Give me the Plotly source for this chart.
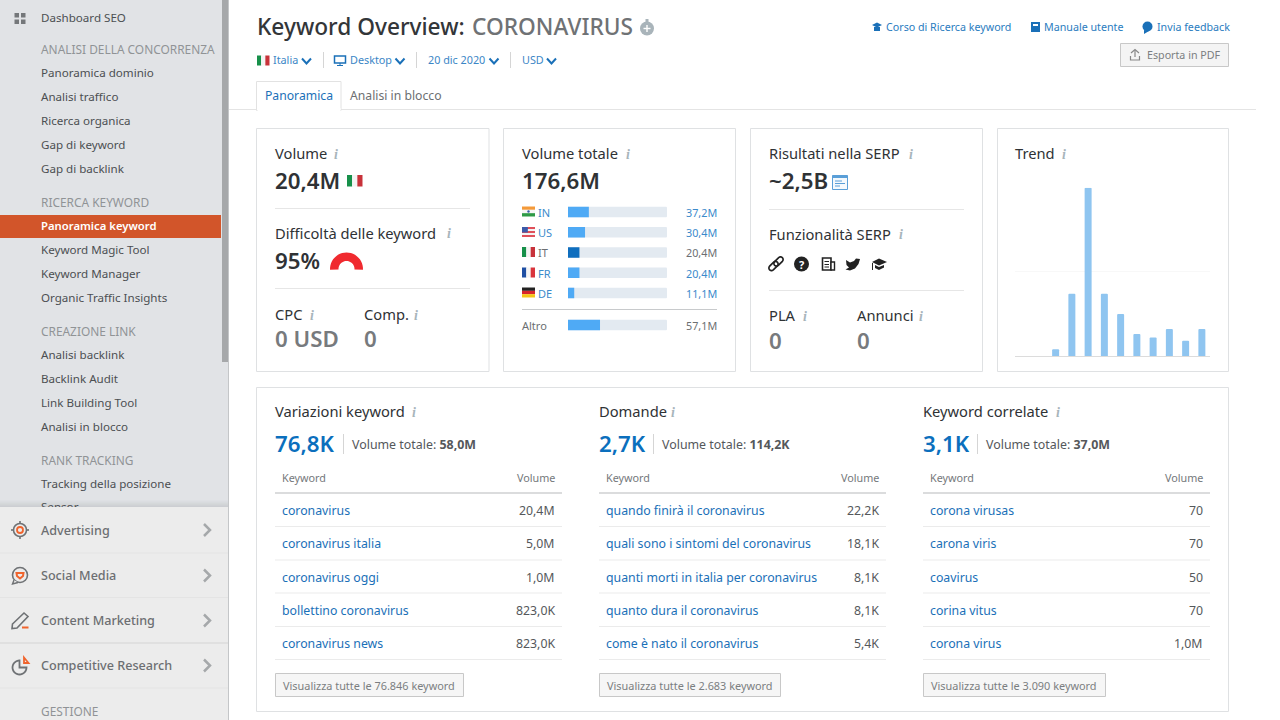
import math
import plotly.graph_objects as go

W, H = 1280, 720
FONT = "Noto Sans"
DARK = "#2f3235"
BLUE = "#1a70b8"
GREY = "#777a7d"
TITLE = 14.7
BIG = 22.3

# sidebar
nav_top = [("Dashboard SEO", 18, "item"),
           ("ANALISI DELLA CONCORRENZA", 49, "head"),
           ("Panoramica dominio", 73, "item"), ("Analisi traffico", 97, "item"),
           ("Ricerca organica", 121, "item"), ("Gap di keyword", 145, "item"),
           ("Gap di backlink", 169, "item"),
           ("RICERCA KEYWORD", 202, "head"),
           ("Panoramica keyword", 226, "active"),
           ("Keyword Magic Tool", 250, "item"), ("Keyword Manager", 274, "item"),
           ("Organic Traffic Insights", 298, "item"),
           ("CREAZIONE LINK", 331, "head"),
           ("Analisi backlink", 355, "item"), ("Backlink Audit", 379, "item"),
           ("Link Building Tool", 403, "item"), ("Analisi in blocco", 427, "item"),
           ("RANK TRACKING", 460, "head"),
           ("Tracking della posizione", 484, "item")]
nav_clipped = "Sensor"
nav_bottom = ["Advertising", "Social Media", "Content Marketing", "Competitive Research"]

# volume totale card
countries = ["IN", "US", "IT", "FR", "DE"]
country_values = [37.2, 30.4, 20.4, 20.4, 11.1]
country_labels = ["37,2M", "30,4M", "20,4M", "20,4M", "11,1M"]
total_volume = 176.6
other_value = 57.1

# trend card
trend_months = ["dic", "gen", "feb", "mar", "apr", "mag", "giu", "lug", "ago", "set", "ott", "nov"]
trend_values = [0, 0, 4, 37, 100, 37, 25, 13, 11, 16, 9, 16]

# keyword tables
kw_titles = ["Variazioni keyword", "Domande", "Keyword correlate"]
kw_counts = ["76,8K", "2,7K", "3,1K"]
kw_totals = ["58,0M", "114,2K", "37,0M"]
kw_buttons = ["Visualizza tutte le 76.846 keyword", "Visualizza tutte le 2.683 keyword",
              "Visualizza tutte le 3.090 keyword"]
kw_names = [["coronavirus", "coronavirus italia", "coronavirus oggi", "bollettino coronavirus", "coronavirus news"],
            ["quando finirà il coronavirus", "quali sono i sintomi del coronavirus",
             "quanti morti in italia per coronavirus", "quanto dura il coronavirus", "come è nato il coronavirus"],
            ["corona virusas", "carona viris", "coavirus", "corina vitus", "corona virus"]]
kw_volumes = [["20,4M", "5,0M", "1,0M", "823,0K", "823,0K"],
              ["22,2K", "18,1K", "8,1K", "8,1K", "5,4K"],
              ["70", "70", "50", "70", "1,0M"]]

shapes = []
annotations = []


def px(x):
    return x / W


def py(y):
    return 1 - y / H


def rect(x0, y0, x1, y1, fill="rgba(0,0,0,0)", line=None, width=1):
    shapes.append(dict(type="rect", xref="paper", yref="paper", x0=px(x0), x1=px(x1), y0=py(y0), y1=py(y1),
                       fillcolor=fill, line=dict(color=line, width=width if line else 0), layer="below"))


def hline(x0, x1, y, color="#e6e6e6", width=1):
    rect(x0, y - width / 2, x1, y + width / 2, fill=color)


def vline(x, y0, y1, color="#d5d5d5"):
    rect(x - 0.5, y0, x + 0.5, y1, fill=color)


def circle(cx, cy, r, fill="rgba(0,0,0,0)", line=None, width=1):
    shapes.append(dict(type="circle", xref="paper", yref="paper", x0=px(cx - r), x1=px(cx + r),
                       y0=py(cy - r), y1=py(cy + r), fillcolor=fill,
                       line=dict(color=line, width=width if line else 0), layer="below"))


def poly(points, fill=None, line=None, width=1, close=False):
    d = "M " + " L ".join(f"{px(a):.5f},{py(b):.5f}" for a, b in points)
    if close:
        d += " Z"
    shapes.append(dict(type="path", xref="paper", yref="paper", path=d,
                       fillcolor=fill or "rgba(0,0,0,0)",
                       line=dict(color=line, width=width if line else 0), layer="below"))


def arc(cx, cy, r, a0, a1, n=24):
    return [(cx + r * math.cos(math.radians(a0 + (a1 - a0) * i / n)),
             cy - r * math.sin(math.radians(a0 + (a1 - a0) * i / n))) for i in range(n + 1)]


def text(x, y, s, size=12.3, color=DARK, anchor="left", weight=400, family=FONT):
    if size >= 14:
        y -= 0.7
    annotations.append(dict(x=px(x), y=py(y), xref="paper", yref="paper", text=s, showarrow=False,
                            xanchor=anchor, yanchor="middle", borderpad=0, borderwidth=0,
                            font=dict(size=size, color=color, family=family, weight=weight)))


def info(x, y):
    text(x, y, "<i>i</i>", size=13.9, color="#a7b4bb", anchor="center", weight=700, family="Liberation Serif")


def chevron_down(x, y, color="#1a70b8"):
    poly([(x - 4.5, y - 2.5), (x, y + 2.5), (x + 4.5, y - 2.5)], line=color, width=2)


def chevron_right(x, y):
    poly([(x - 3, y - 6), (x + 3, y), (x - 3, y + 6)], line="#a5a8aa", width=2.5)


def flag(code, x0, y0, x1, y1):
    h = y1 - y0
    w = x1 - x0
    if code == "IT":
        bands = ["#17904a", "#f4f4f4", "#c8323a"]
        for i, c in enumerate(bands):
            rect(x0 + w * i / 3, y0, x0 + w * (i + 1) / 3, y1, fill=c)
    elif code == "FR":
        bands = ["#1f4fa3", "#f4f4f4", "#d9343c"]
        for i, c in enumerate(bands):
            rect(x0 + w * i / 3, y0, x0 + w * (i + 1) / 3, y1, fill=c)
    elif code == "DE":
        bands = ["#222222", "#d8252c", "#f5c518"]
        for i, c in enumerate(bands):
            rect(x0, y0 + h * i / 3, x1, y0 + h * (i + 1) / 3, fill=c)
    elif code == "IN":
        bands = ["#f49a3a", "#f6f6f6", "#2f9a46"]
        for i, c in enumerate(bands):
            rect(x0, y0 + h * i / 3, x1, y0 + h * (i + 1) / 3, fill=c)
        circle((x0 + x1) / 2, (y0 + y1) / 2, 1.2, fill="#3b5ca8")
    elif code == "US":
        rect(x0, y0, x1, y1, fill="#f3f3f3")
        for i in range(0, 5, 2):
            rect(x0, y0 + h * i / 5, x1, y0 + h * (i + 1) / 5, fill="#e0505a")
        rect(x0, y0, x0 + w * 0.45, y0 + h * 0.55, fill="#3c5aa8")


def link_loop(x0, y0, x1, y1, r):
    # rounded outline along a slanted segment
    ang = math.degrees(math.atan2(y0 - y1, x1 - x0))
    return arc(x1, y1, r, ang - 90, ang + 90, 10) + arc(x0, y0, r, ang + 90, ang + 270, 10)


# page background
rect(0, 0, 228, 507, fill="#e1e3e6")
rect(222, 0, 228, 362, fill="#a6a8aa")
rect(0, 507, 228, 720, fill="#ececec")
for i in range(7):
    rect(0, 500 + i, 228, 501 + i, fill=f"rgba(120,125,130,{0.02 + i * 0.03:.2f})")
vline(228.5, 0, 720, color="#c4c6c8")

rect(0, 215, 221, 238, fill="#d2552a")

# sidebar text
for label, y, kind in nav_top:
    if kind == "head":
        text(41, y, label, size=11.9, color="#909396")
    elif kind == "active":
        text(41, y - 0.3, label, size=11.3, color="#ffffff", weight=600)
    else:
        text(41, y - 0.2, label, size=11.6, color="#4c4f52")

for a in (14.5, 21):
    for b in (13, 19.5):
        rect(a, b, a + 4.5, b + 4.5, fill="#74777a")

nav_ys = [530, 575.5, 620.5, 665.5]
for label, y in zip(nav_bottom, nav_ys):
    text(41, y, label, size=12.6, color="#6c6f72", weight=500)
    chevron_right(207, y)
for y, c in zip([553, 597.5, 643, 688], ["#e4e4e4", "#e4e4e4", "#d4d4d4", "#e4e4e4"]):
    hline(0, 228, y, color=c)
text(41, 711, "GESTIONE", size=11.9, color="#909396")

# advertising icon
circle(20, 530, 6.5, line="#6f7275", width=1.6)
circle(20, 530, 3, line="#f0642d", width=1.8)
for a, b, c, d in [(20, 521, 20, 524), (20, 536, 20, 539), (11, 530, 14, 530), (26, 530, 29, 530)]:
    poly([(a, b), (c, d)], line="#6f7275", width=1.6)
# social media icon
circle(20, 575, 7.5, line="#6f7275", width=1.6)
poly([(14, 580), (12.5, 584), (18, 582.5)], fill="#ececec", line="#6f7275", width=1.4)
poly([(16.5, 573), (23.5, 573), (23, 576), (20, 578.5), (17, 576)], line="#f0642d", width=2, close=True)
# content marketing icon
poly([(12.5, 624), (24, 613), (28, 616.5), (17, 628), (12, 628.5)], line="#6f7275", width=1.6, close=True)
hline(22, 28.5, 627.5, color="#f0642d", width=2)
# competitive research icon
poly(arc(19.5, 667.5, 7, 90, 360) + [(19.5, 667.5)], line="#6f7275", width=1.8, close=True)
poly([(24, 657.5), (28.5, 663), (24, 663)], line="#f0642d", width=1.8, close=True)

# header
text(257, 27, "Keyword Overview:", size=22.7, color="#333639", weight=500)
text(472, 27, "CORONAVIRUS", size=22.7, color="#6f7275", weight=500)
circle(647, 28.5, 7, fill="#a9b4ba")
rect(645.5, 19, 648.5, 22, fill="#a9b4ba")
rect(643.5, 27.8, 650.5, 29.2, fill="#ffffff")
rect(646.3, 25, 647.7, 32, fill="#ffffff")

for x, s in [(886, "Corso di Ricerca keyword"), (1044, "Manuale utente"), (1157, "Invia feedback")]:
    text(x, 27, s, size=10.7, color="#2a7cc0")
poly([(872, 25), (877, 22.5), (882, 25), (877, 27.5)], fill="#1a70b8", close=True)
poly([(874, 27), (874, 31), (880, 31), (880, 27)], fill="#1a70b8", close=True)
rect(1031, 22, 1040, 32, fill="#1a70b8")
rect(1033, 24, 1038, 26, fill="#ffffff")
circle(1147.5, 26.5, 5, fill="#1a70b8")
poly([(1144, 30), (1144, 34), (1149, 31)], fill="#1a70b8", close=True)

rect(1120.5, 43.5, 1228.5, 66.5, fill="#f4f4f4", line="#c8c8c8")
text(1147, 55, "Esporta in PDF", size=10.7, color="#7b7e81")
poly([(1131, 53), (1135, 49.5), (1139, 53)], line="#888888", width=1.2)
poly([(1135, 50), (1135, 57)], line="#888888", width=1.2)
poly([(1130.5, 56), (1130.5, 60), (1139.5, 60), (1139.5, 56)], line="#888888", width=1.2)

flag("IT", 257, 55.5, 269.5, 65.5)
text(273, 59.5, "Italia", size=10.8, color="#3b86c6")
chevron_down(306.5, 61)
vline(323.5, 52, 68)
rect(334.5, 56, 345.5, 63, line="#1a70b8", width=1.5)
rect(337, 65, 343, 66, fill="#1a70b8")
rect(339.5, 63, 340.5, 65, fill="#1a70b8")
text(350, 59.5, "Desktop", size=10.8, color="#3b86c6")
chevron_down(400, 61)
vline(416.5, 52, 68)
text(428, 59.5, "20 dic 2020", size=10.8, color="#3b86c6")
chevron_down(494, 61)
vline(510.5, 52, 68)
text(522, 59.5, "USD", size=10.8, color="#3b86c6")
chevron_down(551.5, 61)

# tabs
hline(229, 1256, 109.5, color="#e4e4e4")
rect(256.5, 81.5, 341, 110.5, fill="#ffffff", line="#e2e2e2")
rect(257.5, 108, 340.5, 111, fill="#ffffff")
text(265, 96, "Panoramica", size=12.2, color="#1a70b8")
text(350, 96, "Analisi in blocco", size=12.2, color="#6c6f72")

# cards
for a, b, c, d in [(256.5, 128.5, 489, 371.5), (503.5, 128.5, 735.5, 371.5), (750.5, 128.5, 982.5, 371.5),
                   (997.5, 128.5, 1228.5, 371.5), (256.5, 387.5, 1228.5, 711.5)]:
    rect(a, b, c, d, fill="#ffffff", line="#dfe1e3")

# volume card
text(275, 154, "Volume", size=TITLE)
info(336, 154)
text(275, 181, "20,4M", size=BIG, weight=600)
flag("IT", 347, 175, 362.5, 186.5)
hline(275, 470, 208.5)
text(275, 234, "Difficoltà delle keyword", size=TITLE)
info(449, 234)
text(275, 261, "95%", size=BIG, weight=600)
poly(arc(346.5, 269, 16.5, 183, -3) + arc(346.5, 269, 8, -3, 183), fill="#f02a2f", close=True)
hline(275, 470, 288.5)
text(275, 315, "CPC", size=TITLE)
info(312, 315)
text(364, 315, "Comp.", size=TITLE)
info(416, 315)
text(275, 339, "0 USD", size=BIG, color=GREY, weight=600)
text(364, 339, "0", size=BIG, color=GREY, weight=600)

# volume totale card
text(522, 154, "Volume totale", size=TITLE)
info(628, 154)
text(522, 181, "176,6M", size=BIG, weight=600)
row_ys = [212, 232.5, 252.5, 273, 293]
for code, label, y in zip(countries, country_labels, row_ys):
    flag(code, 522, y - 5.5, 535, y + 4.5)
    col = "#6c6f72" if code == "IT" else "#3b8acb"
    text(538, y + 0.5, code, size=11, color=col)
    text(717, y, label, size=10.8, color=col, anchor="right")
hline(522, 717, 309.5, color="#c8cacc")
text(522, 326, "Altro", size=11, color="#6c6f72")
text(717, 326, "57,1M", size=10.8, color="#6c6f72", anchor="right")

# serp card
text(769, 154, "Risultati nella SERP", size=TITLE)
info(911, 154)
text(769, 181, "~2,5B", size=BIG, weight=600)
rect(832.5, 175.5, 847.5, 189.5, fill="#f4f9fd", line="#5a9fd8", width=1)
rect(832.5, 175.5, 847.5, 178, fill="#5a9fd8")
for a, b, y in [(835, 842, 181), (835, 845, 183.5), (835, 840, 186)]:
    hline(a, b, y, color="#5a9fd8")
hline(769, 964, 209.5)
text(769, 235, "Funzionalità SERP", size=TITLE)
info(901, 235)
# serp feature icons
poly(link_loop(771.5, 268, 775.5, 264, 2.6), line="#222222", width=1.7, close=True)
poly(link_loop(776.5, 263.5, 780.5, 259.5, 2.6), line="#222222", width=1.7, close=True)
circle(801.5, 264, 7.5, fill="#222222")
text(801.5, 264, "?", size=11, color="#ffffff", anchor="center", weight=700)
rect(822.5, 258, 831, 270, fill="#ffffff", line="#222222", width=1.6)
rect(831, 262, 834.5, 270, fill="#ffffff", line="#222222", width=1.4)
for y in (261.5, 264.5, 267):
    hline(824.5, 829, y, color="#222222")
poly([(846, 260), (850, 262.5), (854, 261), (856, 258.5), (860, 259), (858.5, 264), (855, 268.5), (850, 270.5),
      (845.5, 269.5), (849, 267.5), (846.5, 265), (846, 260)], fill="#222222", close=True)
poly([(872, 262), (879, 258.5), (887, 262), (879, 265.5)], fill="#222222", close=True)
poly([(875, 265), (879, 267), (884, 265), (884, 267.5), (879, 270), (875, 268)], fill="#222222", close=True)
rect(872, 263, 873, 270, fill="#222222")
hline(769, 964, 290.5)
text(769, 316, "PLA", size=TITLE)
info(805, 316)
text(857, 316, "Annunci", size=TITLE)
info(921, 316)
text(769, 341, "0", size=BIG, color=GREY, weight=600)
text(857, 341, "0", size=BIG, color=GREY, weight=600)

# trend card
text(1015, 154, "Trend", size=TITLE)
info(1064, 154)

# keyword tables
col_xs = [275, 599, 923]
sep_xs = [343.5, 653.5, 977.5]
info_xs = [414, 673, 1058]
button_ends = [463, 780, 1105]
row_y = [510.5, 543.5, 577, 610, 643.5]
line_y = [526.5, 560, 593, 626.5, 659.5]
for c, x in enumerate(col_xs):
    text(x, 412, kw_titles[c], size=TITLE)
    info(info_xs[c], 412)
    text(x, 444, kw_counts[c], size=BIG, color="#0b6fbd", weight=600)
    vline(sep_xs[c], 434, 454)
    text(sep_xs[c] + 8.5, 444, f"Volume totale: <b>{kw_totals[c]}</b>", size=12.4, color="#55585b")
    text(x + 7.3, 477.5, "Keyword", size=10.8, color="#75787b")
    text(x + 280, 477.5, "Volume", size=10.8, color="#75787b", anchor="right")
    hline(x, x + 287, 493, color="#b8babc")
    for name, vol, y, ly in zip(kw_names[c], kw_volumes[c], row_y, line_y):
        text(x + 7.3, y, name, size=12.3, color=BLUE)
        text(x + 280.3, y, vol, size=12.3, color="#55585b", anchor="right")
        hline(x, x + 287, ly, color="#ebebeb")
    rect(x + 0.5, 673.5, button_ends[c] + 0.5, 696.5, fill="#f6f6f6", line="#c8c8c8")
    text(x + 8, 685.5, kw_buttons[c], size=10.9, color="#7b7e81")

fig = go.Figure()

# country bars
fig.add_trace(go.Bar(y=countries, x=[total_volume] * len(countries), orientation="h", width=0.52,
                     marker=dict(color="#e3eaf1", line=dict(width=0)), hoverinfo="skip"))
fig.add_trace(go.Bar(y=countries, x=country_values, orientation="h", width=0.52,
                     marker=dict(color=["#4faaf5", "#4faaf5", "#0f6ebe", "#4faaf5", "#4faaf5"], line=dict(width=0))))
fig.add_trace(go.Bar(y=["Altro"], x=[total_volume], orientation="h", width=0.52, xaxis="x2", yaxis="y2",
                     marker=dict(color="#e3eaf1", line=dict(width=0)), hoverinfo="skip"))
fig.add_trace(go.Bar(y=["Altro"], x=[other_value], orientation="h", width=0.52, xaxis="x2", yaxis="y2",
                     marker=dict(color="#4faaf5", line=dict(width=0))))

# trend bars
fig.add_trace(go.Bar(x=trend_months, y=trend_values, width=0.43, xaxis="x3", yaxis="y3",
                     marker=dict(color="#8fc5f0", line=dict(width=0))))

# half hidden last menu row, clipped by the plot area
fig.add_trace(go.Scatter(x=[41], y=[508], text=[nav_clipped], mode="text", textposition="middle right",
                         textfont=dict(size=11.6, color="#4c4f52", family=FONT), cliponaxis=True,
                         xaxis="x4", yaxis="y4", hoverinfo="skip"))

hidden = dict(visible=False, fixedrange=True)
fig.update_layout(
    width=W,
    height=H,
    margin=dict(l=0, r=0, t=0, b=0),
    paper_bgcolor="#ffffff",
    plot_bgcolor="rgba(0,0,0,0)",
    barmode="overlay",
    barcornerradius=1,
    showlegend=False,
    font=dict(family=FONT),
    shapes=shapes,
    annotations=annotations,
    xaxis=dict(hidden, domain=[px(568), px(667)], range=[0, total_volume], anchor="y"),
    yaxis=dict(hidden, domain=[py(303.1), py(201.9)], autorange="reversed", type="category", anchor="x"),
    xaxis2=dict(hidden, domain=[px(568), px(667)], range=[0, total_volume], anchor="y2"),
    yaxis2=dict(hidden, domain=[py(335), py(315)], type="category", anchor="x2"),
    xaxis3=dict(domain=[px(1015), px(1210)], type="category", showticklabels=False, ticks="", showgrid=False,
                zeroline=False, showline=True, linecolor="#dcdcdc", linewidth=1, fixedrange=True, anchor="y3"),
    yaxis3=dict(domain=[py(356), py(187.7)], range=[0, 100], tickvals=[0, 50, 100], showticklabels=False, ticks="",
                gridcolor="#f8f8f8", gridwidth=1, zeroline=False, fixedrange=True, anchor="x3"),
    xaxis4=dict(hidden, domain=[0, px(228)], range=[0, 228], anchor="y4"),
    yaxis4=dict(hidden, domain=[py(507), 1], range=[507, 0], anchor="x4"),
)

fig.write_html("out.html", config=dict(displayModeBar=False),
               post_script="document.body.style.margin='0';document.body.style.overflow='hidden';")
